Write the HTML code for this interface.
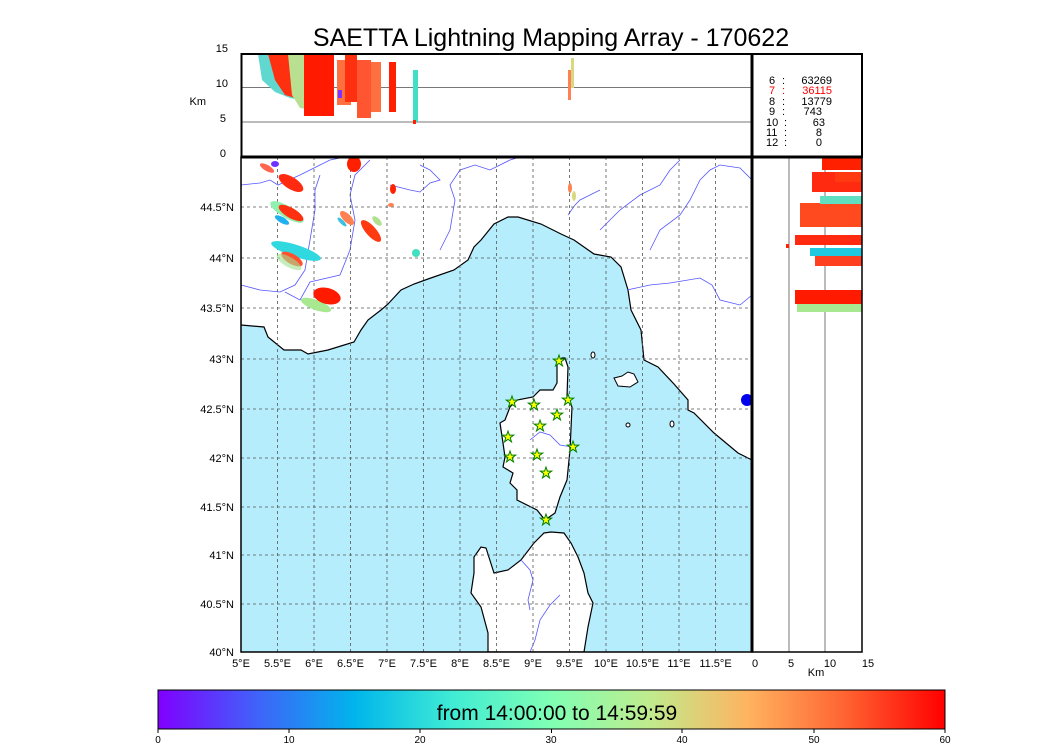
<!DOCTYPE html>
<html><head><meta charset="utf-8"><style>
body{margin:0;background:#fff;width:1050px;height:750px;overflow:hidden}
svg{font-family:"Liberation Sans",sans-serif}
</style></head><body>
<svg width="1050" height="750" viewBox="0 0 1050 750" xmlns="http://www.w3.org/2000/svg">
<defs>
<linearGradient id="rb" x1="0" x2="1" y1="0" y2="0">
<stop offset="0" stop-color="#8000ff"/>
<stop offset="0.125" stop-color="#4062fa"/>
<stop offset="0.25" stop-color="#00b5eb"/>
<stop offset="0.375" stop-color="#40ecd4"/>
<stop offset="0.5" stop-color="#80ffb4"/>
<stop offset="0.625" stop-color="#c0eb8d"/>
<stop offset="0.75" stop-color="#ffb360"/>
<stop offset="0.875" stop-color="#ff6230"/>
<stop offset="1" stop-color="#ff0000"/>
</linearGradient>
<clipPath id="mc"><rect x="241" y="157" width="511" height="495"/></clipPath>
<clipPath id="tc"><rect x="241" y="54" width="511" height="103"/></clipPath>
<clipPath id="rc"><rect x="752" y="157" width="110" height="495"/></clipPath>
</defs>
<text x="551" y="46" font-size="25" text-anchor="middle">SAETTA Lightning Mapping Array - 170622</text>

<g clip-path="url(#mc)">
<rect x="241" y="157" width="511" height="495" fill="#b5edfd"/>
<polygon fill="#fff" stroke="#000" stroke-width="1.2" points="241,325 264,327 268,337 284,350 301,350 308,354 328,350 354,342 361,330 368,320 381,310 388,304 401,290 414,284 428,279 454,270 468,260 474,247 481,240 494,224 508,217 518,217 541,224 561,234 574,240 594,254 611,257 621,267 628,290 631,310 641,330 644,360 658,367 674,384 688,400 688,410 694,413 714,433 738,453 752,460 752,157 241,157"/>
<polygon fill="#fff" stroke="#000" stroke-width="1.2" points="562,358 557,363 557,383 553,390 540,390 533,397 517,400 510,407 505,420 500,423 503,443 505,457 503,467 513,473 510,483 517,490 517,500 537,510 545,520 555,513 560,497 567,480 570,450 572,407 567,397 568,367 565,358"/>
<polygon fill="#fff" stroke="#000" stroke-width="1.2" points="544,533 551,532 564,533 571,543 578,557 584,573 588,593 593,603 588,627 584,652 488,652 488,633 481,607 471,593 474,573 474,557 481,547 486,548 494,573 508,570 521,560 534,543"/>
<polygon fill="#fff" stroke="#000" points="614,378 622,376 628,372 634,374 638,382 630,387 618,386"/>
<ellipse cx="593" cy="355" rx="2" ry="3" fill="#fff" stroke="#000"/>
<ellipse cx="628" cy="425" rx="2" ry="2" fill="#fff" stroke="#000"/>
<ellipse cx="672" cy="424" rx="2" ry="3" fill="#fff" stroke="#000"/>
<ellipse cx="747" cy="400" rx="6" ry="6" fill="#0000ee"/>
<g fill="none" stroke="#5555ff" stroke-width="0.8">
<polyline points="241,185 260,183 270,180 278,185 300,175 320,165 330,160 345,157"/>
<polyline points="241,285 260,290 280,292 295,285 305,270 310,240 315,210 315,190 320,175"/>
<polyline points="285,292 300,300 310,282 340,275 350,250 355,220 350,195 355,175 370,160"/>
<polyline points="390,185 410,190 420,192 430,183 440,180 430,170 420,165"/>
<polyline points="440,250 450,230 455,200 450,185 460,170 475,165 490,170 510,160 520,157"/>
<polyline points="600,230 620,210 640,195 660,185 670,170 680,160"/>
<polyline points="650,250 660,230 680,215 690,200 700,180 710,170 720,165 740,168 752,180"/>
<polyline points="627,290 650,285 670,283 700,278 712,285 720,300 740,305 752,295"/>
<polyline points="568,215 575,205 580,200 590,195 600,190"/>
<polyline points="530,440 540,432 550,435 560,445 572,447"/>
<polyline points="521,560 530,570 533,580 528,600 530,610"/>
<polyline points="560,595 550,605 540,620 535,640 530,652"/>
</g>
<g stroke="#555" stroke-width="0.8" stroke-dasharray="3,3">
<line x1="277.5" y1="157" x2="277.5" y2="652"/><line x1="314" y1="157" x2="314" y2="652"/><line x1="350.5" y1="157" x2="350.5" y2="652"/><line x1="387" y1="157" x2="387" y2="652"/><line x1="423.5" y1="157" x2="423.5" y2="652"/><line x1="460" y1="157" x2="460" y2="652"/><line x1="496.5" y1="157" x2="496.5" y2="652"/><line x1="533" y1="157" x2="533" y2="652"/><line x1="569.5" y1="157" x2="569.5" y2="652"/><line x1="606" y1="157" x2="606" y2="652"/><line x1="642.5" y1="157" x2="642.5" y2="652"/><line x1="679" y1="157" x2="679" y2="652"/><line x1="715.5" y1="157" x2="715.5" y2="652"/>
<line x1="241" y1="207" x2="752" y2="207"/><line x1="241" y1="258" x2="752" y2="258"/><line x1="241" y1="308" x2="752" y2="308"/><line x1="241" y1="359" x2="752" y2="359"/><line x1="241" y1="409" x2="752" y2="409"/><line x1="241" y1="458" x2="752" y2="458"/><line x1="241" y1="507" x2="752" y2="507"/><line x1="241" y1="555" x2="752" y2="555"/><line x1="241" y1="604" x2="752" y2="604"/>
</g>
<g>
<ellipse cx="267" cy="168" rx="8" ry="3" transform="rotate(30 267 168)" fill="#ff4020" opacity="0.8"/>
<ellipse cx="275" cy="164" rx="4" ry="3" fill="#7030ff"/>
<ellipse cx="291" cy="183" rx="14" ry="6" transform="rotate(32 291 183)" fill="#ff2a10"/>
<ellipse cx="287" cy="212" rx="19" ry="6" transform="rotate(30 287 212)" fill="#90f0b0"/>
<ellipse cx="291" cy="213" rx="14" ry="5" transform="rotate(30 291 213)" fill="#ff3010"/>
<ellipse cx="282" cy="220" rx="8" ry="3" transform="rotate(30 282 220)" fill="#20b0f0"/>
<ellipse cx="296" cy="251" rx="26" ry="6" transform="rotate(18 296 251)" fill="#30d8e0"/>
<ellipse cx="292" cy="259" rx="12" ry="5" transform="rotate(30 292 259)" fill="#ff5030"/>
<ellipse cx="289" cy="262" rx="14" ry="5" transform="rotate(30 289 262)" fill="#a0e090" opacity="0.6"/>
<ellipse cx="316" cy="305" rx="16" ry="5" transform="rotate(20 316 305)" fill="#a8e890"/>
<ellipse cx="327" cy="296" rx="14" ry="8" transform="rotate(15 327 296)" fill="#ff1a00"/>
<ellipse cx="354" cy="164" rx="7" ry="8" fill="#ff2000"/>
<ellipse cx="347" cy="218" rx="9" ry="4" transform="rotate(45 347 218)" fill="#ff8050"/>
<ellipse cx="342" cy="222" rx="6" ry="2" transform="rotate(45 342 222)" fill="#40c0e0"/>
<ellipse cx="371" cy="231" rx="14" ry="5" transform="rotate(48 371 231)" fill="#ff3a10"/>
<ellipse cx="377" cy="221" rx="6" ry="3" transform="rotate(45 377 221)" fill="#b0e090"/>
<ellipse cx="393" cy="189" rx="3" ry="5" fill="#ff2000"/>
<ellipse cx="391" cy="205" rx="3" ry="2" fill="#ff8050"/>
<ellipse cx="416" cy="253" rx="4" ry="4" fill="#40e0c0"/>
<ellipse cx="570" cy="188" rx="2" ry="5" fill="#ff8050"/>
<ellipse cx="574" cy="196" rx="2" ry="5" fill="#d8d880"/>
</g>
<g fill="#ffff00" stroke="#008000" stroke-width="1">
<polygon points="0,-6 1.4,-1.9 5.7,-1.9 2.2,0.7 3.5,4.9 0,2.3 -3.5,4.9 -2.2,0.7 -5.7,-1.9 -1.4,-1.9" transform="translate(559,361)"/>
<polygon points="0,-6 1.4,-1.9 5.7,-1.9 2.2,0.7 3.5,4.9 0,2.3 -3.5,4.9 -2.2,0.7 -5.7,-1.9 -1.4,-1.9" transform="translate(512,402)"/>
<polygon points="0,-6 1.4,-1.9 5.7,-1.9 2.2,0.7 3.5,4.9 0,2.3 -3.5,4.9 -2.2,0.7 -5.7,-1.9 -1.4,-1.9" transform="translate(534,405)"/>
<polygon points="0,-6 1.4,-1.9 5.7,-1.9 2.2,0.7 3.5,4.9 0,2.3 -3.5,4.9 -2.2,0.7 -5.7,-1.9 -1.4,-1.9" transform="translate(568,400)"/>
<polygon points="0,-6 1.4,-1.9 5.7,-1.9 2.2,0.7 3.5,4.9 0,2.3 -3.5,4.9 -2.2,0.7 -5.7,-1.9 -1.4,-1.9" transform="translate(557,415)"/>
<polygon points="0,-6 1.4,-1.9 5.7,-1.9 2.2,0.7 3.5,4.9 0,2.3 -3.5,4.9 -2.2,0.7 -5.7,-1.9 -1.4,-1.9" transform="translate(540,426)"/>
<polygon points="0,-6 1.4,-1.9 5.7,-1.9 2.2,0.7 3.5,4.9 0,2.3 -3.5,4.9 -2.2,0.7 -5.7,-1.9 -1.4,-1.9" transform="translate(508,437)"/>
<polygon points="0,-6 1.4,-1.9 5.7,-1.9 2.2,0.7 3.5,4.9 0,2.3 -3.5,4.9 -2.2,0.7 -5.7,-1.9 -1.4,-1.9" transform="translate(573,447)"/>
<polygon points="0,-6 1.4,-1.9 5.7,-1.9 2.2,0.7 3.5,4.9 0,2.3 -3.5,4.9 -2.2,0.7 -5.7,-1.9 -1.4,-1.9" transform="translate(537,455)"/>
<polygon points="0,-6 1.4,-1.9 5.7,-1.9 2.2,0.7 3.5,4.9 0,2.3 -3.5,4.9 -2.2,0.7 -5.7,-1.9 -1.4,-1.9" transform="translate(510,457)"/>
<polygon points="0,-6 1.4,-1.9 5.7,-1.9 2.2,0.7 3.5,4.9 0,2.3 -3.5,4.9 -2.2,0.7 -5.7,-1.9 -1.4,-1.9" transform="translate(546,473)"/>
<polygon points="0,-6 1.4,-1.9 5.7,-1.9 2.2,0.7 3.5,4.9 0,2.3 -3.5,4.9 -2.2,0.7 -5.7,-1.9 -1.4,-1.9" transform="translate(546,520)"/>
</g>
</g>
<rect x="241" y="157" width="511" height="495" fill="none" stroke="#000" stroke-width="1.5"/>

<g clip-path="url(#tc)">
<line x1="241" y1="87.5" x2="752" y2="87.5" stroke="#777"/>
<line x1="241" y1="122" x2="752" y2="122" stroke="#777"/>
<polygon points="258,54 302,54 300,100 290,98 275,92 262,80" fill="#60d8d0"/>
<polygon points="268,54 302,54 302,100 285,95 275,80" fill="#ff3010"/>
<polygon points="288,54 310,54 312,110 300,108 292,95" fill="#b8e090"/>
<rect x="304" y="54" width="30" height="62" fill="#ff1a00"/>
<rect x="337" y="60" width="14" height="45" fill="#ff7040"/>
<rect x="345" y="54" width="12" height="48" fill="#ff3010"/>
<rect x="338" y="90" width="4" height="8" fill="#8030ff"/>
<rect x="357" y="60" width="14" height="58" fill="#ff5530"/>
<rect x="371" y="62" width="10" height="50" fill="#ff7040"/>
<rect x="389" y="62" width="7" height="50" fill="#ff2000"/>
<rect x="413" y="70" width="5" height="52" fill="#40e0c8"/>
<rect x="413" y="120" width="3" height="4" fill="#ff2000"/>
<rect x="568" y="70" width="3" height="30" fill="#ff8050"/>
<rect x="571" y="58" width="3" height="30" fill="#d8d880"/>
</g>
<rect x="241.5" y="54" width="510.5" height="103" fill="none" stroke="#000" stroke-width="2"/>
<g font-size="11" text-anchor="end">
<text x="228" y="52">15</text><text x="228" y="87">10</text><text x="226" y="122">5</text><text x="226" y="157">0</text>
<text x="206" y="105">Km</text>
</g>

<rect x="752" y="54" width="110" height="103" fill="#fff" stroke="#000" stroke-width="2"/>
<g font-size="11">
<text x="769" y="84">6</text><text x="782" y="84">:</text><text x="832" y="84" text-anchor="end">63269</text>
<g fill="#ff0000"><text x="769" y="94">7</text><text x="782" y="94">:</text><text x="832" y="94" text-anchor="end">36115</text></g>
<text x="769" y="105">8</text><text x="782" y="105">:</text><text x="832" y="105" text-anchor="end">13779</text>
<text x="769" y="115">9</text><text x="782" y="115">:</text><text x="822" y="115" text-anchor="end">743</text>
<text x="766" y="126">10</text><text x="784" y="126">:</text><text x="825" y="126" text-anchor="end">63</text>
<text x="766" y="136">11</text><text x="784" y="136">:</text><text x="822" y="136" text-anchor="end">8</text>
<text x="766" y="146">12</text><text x="784" y="146">:</text><text x="822" y="146" text-anchor="end">0</text>
</g>

<g clip-path="url(#rc)">
<rect x="752" y="157" width="110" height="495" fill="#fff"/>
<line x1="789" y1="157" x2="789" y2="652" stroke="#777"/>
<line x1="825" y1="157" x2="825" y2="652" stroke="#777"/>
<rect x="822" y="157" width="40" height="13" fill="#ff2000"/>
<rect x="812" y="172" width="50" height="20" fill="#ff2a10"/>
<rect x="835" y="172" width="27" height="10" fill="#ff3a10"/>
<rect x="800" y="203" width="62" height="24" fill="#ff4a20"/>
<rect x="820" y="196" width="42" height="8" fill="#60e0c0"/>
<rect x="795" y="235" width="67" height="10" fill="#ff2a10"/>
<rect x="810" y="248" width="52" height="8" fill="#20c8e0"/>
<rect x="815" y="256" width="47" height="10" fill="#ff4020"/>
<rect x="795" y="290" width="67" height="14" fill="#ff1a00"/>
<rect x="797" y="304" width="65" height="8" fill="#a8e890"/>
<rect x="786" y="244" width="3" height="4" fill="#ff2000"/>
</g>
<rect x="752" y="157" width="110" height="495" fill="none" stroke="#000" stroke-width="1.5"/>
<line x1="752" y1="54" x2="752" y2="652" stroke="#000" stroke-width="3"/>
<line x1="241" y1="157" x2="862" y2="157" stroke="#000" stroke-width="3"/>

<g font-size="11" text-anchor="end">
<text x="234" y="211">44.5°N</text><text x="234" y="262">44°N</text><text x="234" y="312">43.5°N</text><text x="234" y="363">43°N</text><text x="234" y="413">42.5°N</text><text x="234" y="462">42°N</text><text x="234" y="511">41.5°N</text><text x="234" y="559">41°N</text><text x="234" y="608">40.5°N</text><text x="234" y="656">40°N</text>
</g>
<g font-size="11" text-anchor="middle">
<text x="241" y="667">5°E</text><text x="277.5" y="667">5.5°E</text><text x="314" y="667">6°E</text><text x="350.5" y="667">6.5°E</text><text x="387" y="667">7°E</text><text x="423.5" y="667">7.5°E</text><text x="460" y="667">8°E</text><text x="496.5" y="667">8.5°E</text><text x="533" y="667">9°E</text><text x="569.5" y="667">9.5°E</text><text x="606" y="667">10°E</text><text x="642.5" y="667">10.5°E</text><text x="679" y="667">11°E</text><text x="715.5" y="667">11.5°E</text>
<text x="755" y="667">0</text><text x="791" y="667">5</text><text x="830" y="667">10</text><text x="868" y="667">15</text>
<text x="816" y="676">Km</text>
</g>

<rect x="158" y="690" width="787" height="39" fill="url(#rb)" stroke="#000" stroke-width="1"/>
<text x="557" y="720" font-size="21" text-anchor="middle">from 14:00:00 to 14:59:59</text>
<g stroke="#000"><line x1="158" y1="729" x2="158" y2="733"/><line x1="289" y1="729" x2="289" y2="733"/><line x1="420" y1="729" x2="420" y2="733"/><line x1="551.5" y1="729" x2="551.5" y2="733"/><line x1="682" y1="729" x2="682" y2="733"/><line x1="814" y1="729" x2="814" y2="733"/><line x1="945" y1="729" x2="945" y2="733"/></g>
<g font-size="10" text-anchor="middle">
<text x="158" y="743">0</text><text x="289" y="743">10</text><text x="420" y="743">20</text><text x="551" y="743">30</text><text x="682" y="743">40</text><text x="814" y="743">50</text><text x="945" y="743">60</text>
</g>
</svg>
</body></html>
